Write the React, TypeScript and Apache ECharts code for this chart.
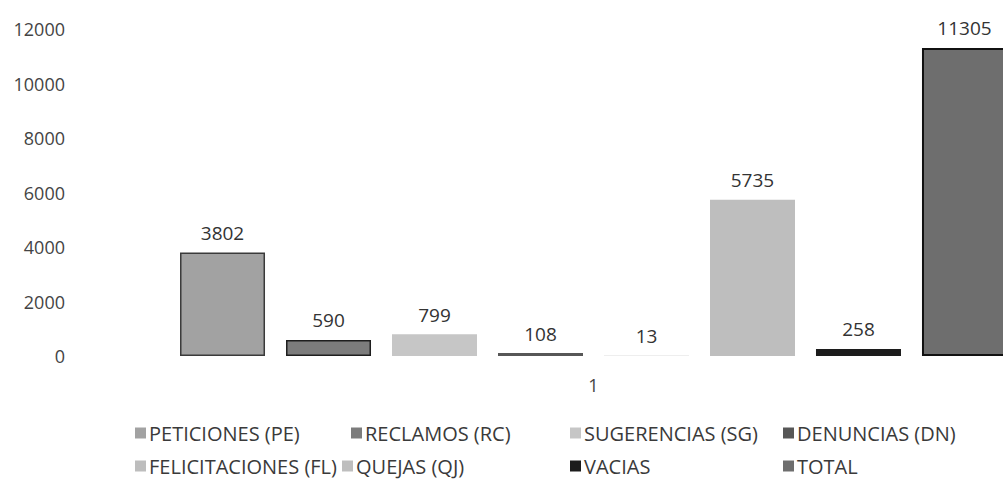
import React, { useEffect, useRef } from "react";
import * as echarts from "echarts";

const categories: string[] = ["1"];
const seriesNames: string[] = [
  "PETICIONES (PE)",
  "RECLAMOS (RC)",
  "SUGERENCIAS (SG)",
  "DENUNCIAS (DN)",
  "FELICITACIONES (FL)",
  "QUEJAS (QJ)",
  "VACIAS",
  "TOTAL",
];
const seriesValues: number[] = [3802, 590, 799, 108, 13, 5735, 258, 11305];
const fillColors: string[] = ["#a2a2a2", "#7c7c7c", "#c6c6c6", "#575757", "#bdbdbd", "#bebebe", "#1c1c1c", "#6e6e6e"];
const borderColors: string[] = ["#3a3a3a", "#1e1e1e", "#c6c6c6", "#3a3a3a", "#bdbdbd", "#bebebe", "#111111", "#111111"];
const borderWidths: number[] = [1.5, 1.5, 0, 0, 0, 0, 0, 2];
const yMin = 0;
const yMax = 12000;
const yInterval = 2000;

// legend layout (positions in px)
const legendPos: { left: number; top: number }[] = [
  { left: 135, top: 423 },
  { left: 351, top: 423 },
  { left: 570, top: 423 },
  { left: 783, top: 423 },
  { left: 135, top: 456 },
  { left: 342, top: 456 },
  { left: 570, top: 456 },
  { left: 783, top: 456 },
];

const FONT = "'Open Sans', 'Noto Sans', sans-serif";

export default function App() {
  const ref = useRef<HTMLDivElement | null>(null);
  useEffect(() => {
    if (!ref.current) return;
    const chart = echarts.init(ref.current, undefined, { renderer: "svg" });
    const option: any = {
      animation: false,
      backgroundColor: "#ffffff",
      textStyle: { fontFamily: FONT },
      grid: { left: 80, top: 29, width: 1027, bottom: 140, containLabel: false },
      legend: seriesNames.map((n, i) => ({
        data: [n],
        left: legendPos[i].left,
        top: legendPos[i].top,
        icon: "rect",
        itemWidth: 11,
        itemHeight: 11,
        itemGap: 4,
        padding: 0,
        selectedMode: false,
        itemStyle: { borderWidth: 0 },
        textStyle: { fontFamily: FONT, fontSize: 20, color: "#3a3a3a", padding: [0, 0, 0, -2] },
      })),
      xAxis: {
        type: "category",
        data: categories,
        axisLine: { show: false },
        axisTick: { show: false },
        axisLabel: { fontFamily: FONT, fontSize: 18, color: "#444", margin: 20 },
      },
      yAxis: {
        type: "value",
        min: yMin,
        max: yMax,
        interval: yInterval,
        axisLine: { show: false },
        axisTick: { show: false },
        splitLine: { show: false },
        axisLabel: {
          fontFamily: FONT,
          fontSize: 18,
          color: "#444",
          margin: 15,
          formatter: (v: number) => String(v),
        },
      },
      series: seriesNames.map((n, i) => ({
        name: n,
        type: "bar",
        data: [seriesValues[i]],
        barWidth: 85,
        barGap: "24.7%",
        itemStyle: {
          color: fillColors[i],
          borderColor: borderColors[i],
          borderWidth: borderWidths[i],
        },
        label: {
          show: true,
          position: "top",
          distance: 10,
          fontFamily: FONT,
          fontSize: 19,
          color: "#333",
        },
      })),
    };
    chart.setOption(option);
    return () => chart.dispose();
  }, []);
  return (
    <div style={{ position: "absolute", left: 0, top: 0, width: 1003, height: 496, overflow: "hidden", background: "#fff" }}>
      <div ref={ref} style={{ position: "absolute", left: 0, top: 0, width: 1120, height: 496 }} />
    </div>
  );
}
